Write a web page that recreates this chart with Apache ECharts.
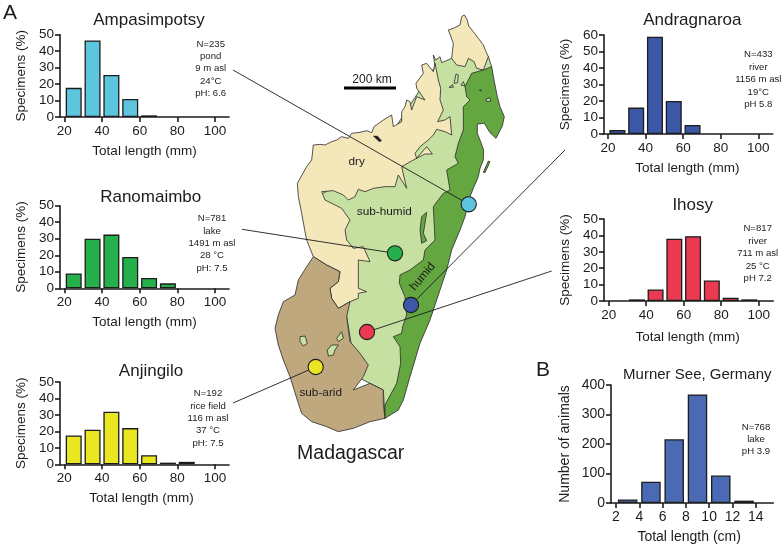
<!DOCTYPE html>
<html><head><meta charset="utf-8">
<style>html,body{margin:0;padding:0;background:#fff}#c{width:783px;height:548px}</style>
<script src="https://cdn.jsdelivr.net/npm/echarts@6/dist/echarts.min.js"></script>
</head><body><div id="c"></div>
<script>
// ---- data ----
const binCentersMm = [25,35,45,55,65,75,85,95];
const binCentersCm = [3,5,7,9,11,13];
const ampasimpotsy = [17.7,46.5,25.5,11,1];
const ranomaimbo   = [9,30,32.5,19,6.3,3];
const anjingilo    = [17.5,21,32,22,5.5,1,1.5];
const andragnaroa  = [2.5,16,59,20,5.5];
const ihosy        = [0,1,7,38,39.5,12.5,2,1];
const murnerSee    = [12,72,216,368,93,8];
const mmTicks = [20,40,60,80,100];
const cmTicks = [2,4,6,8,10,12,14];
const notesAmpasimpotsy = ['N=235','pond','9 m asl','24°C','pH: 6.6'];
const notesRanomaimbo   = ['N=781','lake','1491 m asl','28 °C','pH: 7.5'];
const notesAnjingilo    = ['N=192','rice field','116 m asl','37 °C','pH: 7.5'];
const notesAndragnaroa  = ['N=433','river','1156 m asl','19°C','pH 5.8'];
const notesIhosy        = ['N=817','river','711 m asl','25 °C','pH 7.2'];
const notesMurner       = ['N=768','lake','pH 3.9'];

// ---- map outlines (traced, in 3x units; origin at x=270) ----
const subHumidShape = [490,165,497,180,510,170,515,188,545,175,655,170,665,200,560,600,450,1000,345,1255,340,1170,260,1130,230,950,220,800,215,700,150,585,300,500,495,200];
const dryNorthShape = [583,45,592,60,596,78,610,95,625,115,640,135,648,155,655,170,640,210,620,205,612,185,595,175,585,200,560,195,545,175,550,130,535,90,550,85,570,75,575,50];
const dryWestShape = [130,435,150,433,165,435,185,425,200,420,215,410,235,415,245,400,270,397,290,392,305,398,312,380,340,360,365,345,370,380,395,365,395,335,405,320,410,300,420,305,425,330,440,290,465,300,440,265,438,250,460,220,455,195,470,190,490,215,495,190,505,240,512,265,510,300,520,330,503,365,525,360,540,350,545,405,525,395,500,388,490,405,475,420,450,440,435,460,440,475,470,440,487,462,465,462,430,480,395,500,410,565,385,525,375,560,345,560,310,565,285,575,265,568,255,590,235,600,220,585,190,572,155,575,165,600,215,625,240,660,225,690,230,720,250,745,280,740,300,785,265,780,265,865,290,875,265,880,265,895,240,905,205,925,185,895,180,865,205,845,210,815,170,795,130,770,110,720,105,695,95,640,85,590,82,550,110,500,125,480];
const subAridShape = [130,770,170,795,210,815,205,845,180,865,185,895,205,925,240,905,230,950,240,1025,270,1060,295,1095,280,1130,250,1170,300,1150,340,1170,340,1215,345,1255,300,1265,250,1285,205,1295,170,1280,125,1265,95,1240,85,1210,60,1130,40,1080,25,1035,15,985,25,945,40,905,75,885,85,840,110,800];
const humidShape = [665,200,672,240,682,290,690,320,703,350,697,378,678,415,660,398,643,370,622,372,622,400,632,425,641,450,640,480,630,505,625,530,610,565,600,590,585,650,570,690,545,750,530,810,500,900,480,960,450,1030,420,1130,400,1200,385,1230,345,1255,345,1215,380,1150,392,1090,390,1040,370,1010,395,1000,398,980,410,945,405,890,388,850,390,825,420,810,460,780,465,750,495,720,490,620,520,580,540,570,530,510,565,490,555,470,565,430,580,390,580,320,600,300,590,290,585,260,605,220,640,210];
const lightPatches = [
  [552,250,558,222,565,225,563,248],[537,262,548,254,550,262],[573,255,580,245,585,258],
  [648,298,660,293,662,303,650,305],[90,1010,105,1008,112,1030,100,1038,90,1025],
  [200,1015,215,995,220,1015,205,1025],[172,1050,185,1035,205,1035,195,1050,190,1065,175,1068]
];
const darkPatches = [
  [455,650,470,637,465,670,460,700,470,722,455,730,450,690],[640,517,655,483,660,485,645,518]
];
const blackMarks = [[310,408,322,408,335,422,328,425],[628,270,635,270,633,273]];

// ---- sites: from a histogram note to the dot on the map ----
const sites = [
  {color:'#5cc6de', at:[468.7,204.3], from:[233,70]},
  {color:'#25b04c', at:[395,253.3],  from:[242,229.3]},
  {color:'#3b57a6', at:[411,305],    from:[565,150]},
  {color:'#e93a52', at:[367,332],    from:[551.7,271]},
  {color:'#ebe622', at:[315.7,367],  from:[233,403]}
];

const INK = '#1c1c1c', FONT = '"Liberation Sans", Arial, sans-serif';
const panels = [
  {title:'Ampasimpotsy', tx:149, ty:20, x:60, y0:117, yTop:34.7, xEnd:229, tick20:64.3, tick100:215, vals:ampasimpotsy, color:'#5cc6de', ymax:50, notes:notesAmpasimpotsy, nx:210.7, ny:68.7, gapX:27, dx:0},
  {title:'Ranomaimbo', tx:150.7, ty:197.7, x:60, y0:288.3, yTop:205.7, xEnd:229, tick20:64.3, tick100:215, vals:ranomaimbo, color:'#25b04c', ymax:50, notes:notesRanomaimbo, nx:212, ny:243.3, gapX:27, dx:0},
  {title:'Anjingilo', tx:151, ty:371.7, x:60, y0:464.3, yTop:382, xEnd:229, tick20:64.3, tick100:215, vals:anjingilo, color:'#ebe622', ymax:50, notes:notesAnjingilo, nx:208, ny:418.3, gapX:27, dx:3},
  {title:'Andragnaroa', tx:692.3, ty:20, x:604, y0:134, yTop:35, xEnd:772.7, tick20:608, tick100:758.3, vals:andragnaroa, color:'#3b57a6', ymax:60, notes:notesAndragnaroa, nx:758.3, ny:79.6, gapX:27, dx:1},
  {title:'Ihosy', tx:692.7, ty:205.7, x:604, y0:301, yTop:219, xEnd:773.3, tick20:608.7, tick100:758.7, vals:ihosy, color:'#e93a52', ymax:50, notes:notesIhosy, nx:757.7, ny:253.6, gapX:29, dx:1}
];

const option = {animation:false, backgroundColor:'#fff', title:[], grid:[], xAxis:[], yAxis:[], series:[], graphic:[]};
const txt = (text,x,y,size,extra) => ({type:'text', z:20, x, y, rotation:(extra&&extra.rotation)||0, style:{text, font:size+'px '+FONT, fill:(extra&&extra.fill)||INK, textAlign:'center', textVerticalAlign:'middle', lineHeight:(extra&&extra.lineHeight)||undefined}});

function addPanel(p, i, xAxisCfg, barW, yInterval, yName, xName, fs, gapY){
  option.title.push({text:p.title, left:p.tx, top:p.ty, padding:0, textAlign:'center', textVerticalAlign:'middle', textStyle:{fontFamily:FONT, fontWeight:'normal', fontSize:p.tfs||17, color:INK}});
  option.grid.push({left:p.x, top:p.yTop, width:p.xEnd-p.x, height:p.y0-p.yTop});
  const axisStyle = {lineStyle:{color:INK, width:1.6}};
  option.xAxis.push({gridIndex:i, type:'value', min:xAxisCfg.min, max:xAxisCfg.max, splitLine:{show:false},
    axisLine:{show:true, onZero:false, ...axisStyle},
    axisTick:{show:true, length:5, customValues:xAxisCfg.ticks, ...axisStyle},
    axisLabel:{customValues:xAxisCfg.ticks, margin:7, fontFamily:FONT, fontSize:fs, color:INK},
    name:xName, nameLocation:'middle', nameGap:p.gapX, nameTextStyle:{fontFamily:FONT, fontSize:fs, color:INK, padding:[0,p.dx*2,0,0]}});
  option.yAxis.push({gridIndex:i, type:'value', min:0, max:p.ymax, interval:yInterval, splitLine:{show:false},
    axisLine:{show:true, onZero:false, ...axisStyle},
    axisTick:{show:true, length:5, ...axisStyle},
    axisLabel:{margin:6, fontFamily:FONT, fontSize:fs, color:INK},
    name:yName, nameLocation:'middle', nameGap:gapY, nameTextStyle:{fontFamily:FONT, fontSize:fs, color:INK}});
  option.series.push({type:'bar', xAxisIndex:i, yAxisIndex:i, barWidth:barW, itemStyle:{color:p.color, borderColor:INK, borderWidth:1.3},
    data:p.vals.map((v,k)=>[xAxisCfg.centers[k],v]).filter(d=>d[1]>0)});
  option.graphic.push(txt(p.notes.join('\n'), p.nx, p.ny, 9.6, {lineHeight:p.nlh||12.4}));
}
panels.forEach((p,i)=>{
  const perUnit = (p.tick100-p.tick20)/80;
  addPanel(p,i,{min:20-(p.tick20-p.x)/perUnit, max:20+(p.xEnd-p.tick20)/perUnit, ticks:mmTicks, centers:binCentersMm},16,10,'Specimens (%)','Total length (mm)',13.5,32);
});
(function(){
  const p = {title:'Murner See, Germany', tfs:15, tx:697.3, ty:375, x:611, y0:503, yTop:385, xEnd:773.3, vals:murnerSee, color:'#4a6bb3', ymax:400, notes:notesMurner, nx:756, ny:439.3, nlh:12, gapX:27, dx:3};
  const perUnit=(755.7-616)/12;
  addPanel(p,5,{min:2-(616-p.x)/perUnit,max:2+(p.xEnd-616)/perUnit,ticks:cmTicks,centers:binCentersCm},19.5,100,'Number of animals','Total length (cm)',14,39);
})();

// map, drawn as library polygons
const toPts = a => { const r=[]; for(let i=0;i<a.length;i+=2) r.push([270+a[i]/3, a[i+1]/3]); return r; };
const poly = (a,fill,lw,z) => ({type:'polygon', z:z||2, shape:{points:toPts(a)}, style:{fill, stroke:'#2a2a2a', lineWidth:lw===undefined?0.8:lw, lineJoin:'round'}});
option.graphic.push(poly(subHumidShape,'#c6e0a2'));
option.graphic.push(poly(dryNorthShape,'#f4e7ba',0.8,3));
option.graphic.push(poly(dryWestShape,'#f4e7ba',0.8,3));
option.graphic.push(poly(subAridShape,'#bfa77e',0.8,3));
option.graphic.push(poly(humidShape,'#64a640',0.8,4));
lightPatches.forEach(a=>option.graphic.push(poly(a,'#c6e0a2',0.8,5)));
darkPatches.forEach(a=>option.graphic.push(poly(a,'#64a640',0.8,5)));
blackMarks.forEach(a=>option.graphic.push(poly(a,'#1c1c1c',0.5,5)));
sites.forEach(s=>{
  option.graphic.push({type:'line', z:6, shape:{x1:s.from[0],y1:s.from[1],x2:s.at[0],y2:s.at[1]}, style:{stroke:INK, lineWidth:0.9}});
  option.graphic.push({type:'circle', z:7, x:s.at[0], y:s.at[1], shape:{r:7.6}, style:{fill:s.color, stroke:INK, lineWidth:1.1}});
});
option.graphic.push({type:'rect', z:6, shape:{x:344,y:86.6,width:52,height:2.8}, style:{fill:'#000'}});
option.graphic.push(txt('200 km',372,80,12));
option.graphic.push(txt('dry',356.7,162,11.8));
option.graphic.push(txt('sub-humid',384.3,212,11.8));
option.graphic.push(txt('humid',422.7,276.7,11.8,{rotation:50*Math.PI/180}));
option.graphic.push(txt('sub-arid',320.7,393,11.8));
option.graphic.push(txt('Madagascar',350.7,454,19.5));
option.graphic.push(txt('A',10,13,21));
option.graphic.push(txt('B',543,370,21));

echarts.init(document.getElementById('c'),null,{renderer:'canvas'}).setOption(option);
</script></body></html>
